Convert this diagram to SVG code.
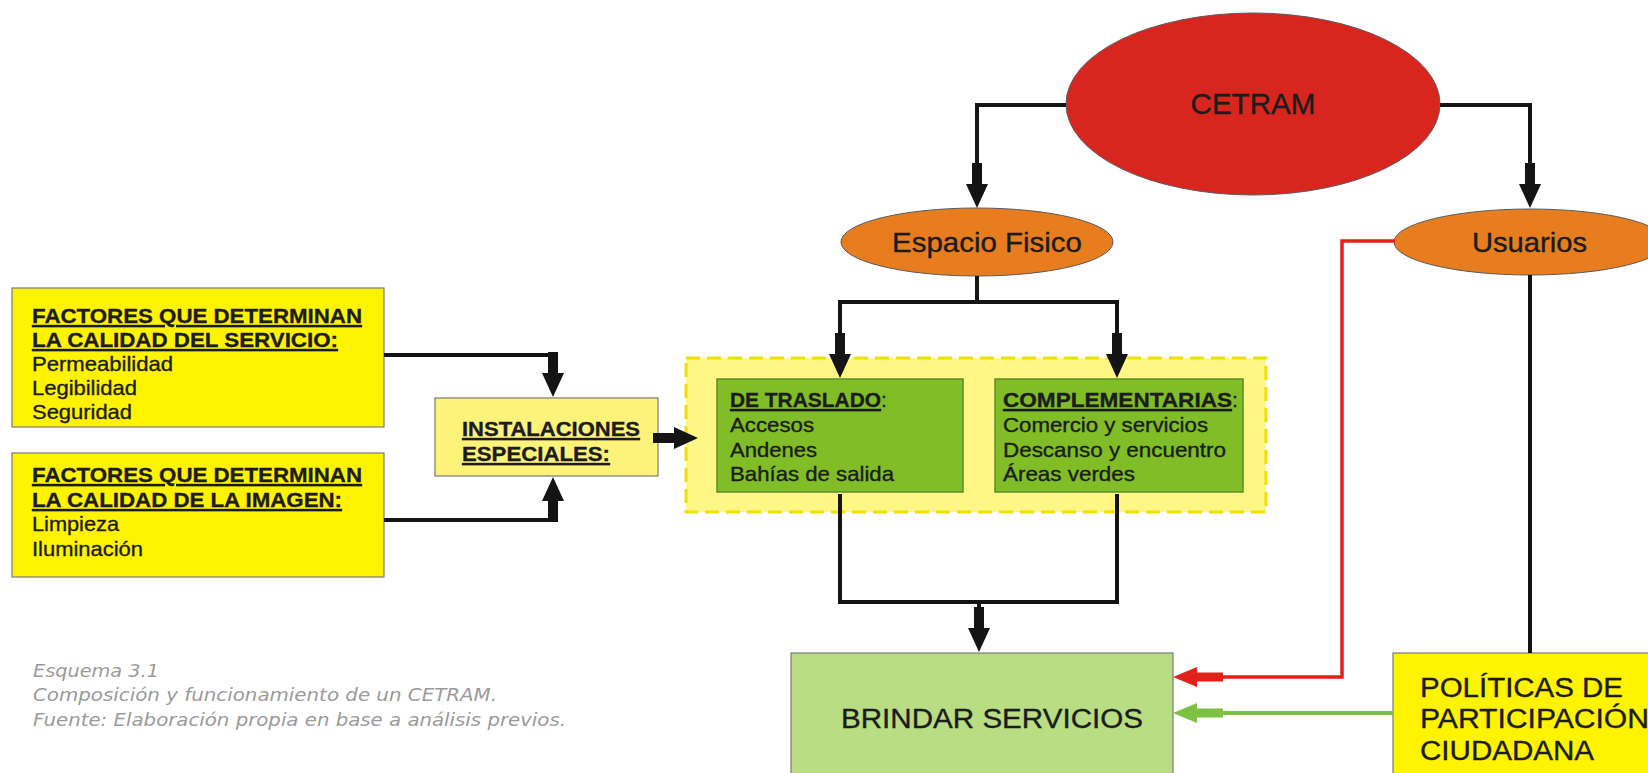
<svg xmlns="http://www.w3.org/2000/svg" xmlns:xlink="http://www.w3.org/1999/xlink" width="1648" height="773" viewBox="0 0 1648 773">
<style>
  .t { font-family: "Liberation Sans", Arial, sans-serif; fill: #1c1c1c; stroke: #1c1c1c; stroke-width: 0.35; }
  .b { font-weight: bold; }
  .u { text-decoration: underline; }
  .box { stroke: #7a7a7a; stroke-width: 1.2; }
  .ell { stroke: #5a5a5a; stroke-width: 1; }
  .ln { fill: none; stroke: #141414; stroke-width: 4; stroke-linejoin: miter; }
  .cap { font-family: "DejaVu Sans", Verdana, sans-serif; font-style: italic; fill: #9a9a9a; font-size: 17.5px; }
</style>
<defs>
  <path id="arrD" d="M-5,-45 H5 V-24 H11 L0,0 L-11,-24 H-5 Z" fill="#141414"/>
  <path id="arrL" d="M0,0 L24,-10 V-4.5 H50 V4.5 H24 V10 Z"/>
</defs>
<rect width="1648" height="773" fill="#ffffff"/>

<g id="cetram">
  <ellipse class="ell" cx="1253" cy="104" rx="187" ry="91" fill="#d8261f"/>
  <text class="t" x="1253" y="114" font-size="29" text-anchor="middle" textLength="125" lengthAdjust="spacingAndGlyphs">CETRAM</text>
</g>

<g id="espacio-fisico">
  <ellipse class="ell" cx="977" cy="242" rx="136" ry="34" fill="#e77d1f"/>
  <text class="t" x="892" y="252" font-size="28" textLength="190" lengthAdjust="spacingAndGlyphs">Espacio Fisico</text>
</g>

<g id="usuarios">
  <ellipse class="ell" cx="1530" cy="242" rx="136" ry="33" fill="#e77d1f"/>
  <text class="t" x="1472" y="252" font-size="28" textLength="115" lengthAdjust="spacingAndGlyphs">Usuarios</text>
</g>

<g id="factores-servicio">
  <rect class="box" x="12" y="288" width="372" height="139" fill="#fff300"/>
  <text class="t b u" x="32" y="323" font-size="21" textLength="330" lengthAdjust="spacingAndGlyphs">FACTORES QUE DETERMINAN</text>
  <text class="t b u" x="32" y="347" font-size="21" textLength="306" lengthAdjust="spacingAndGlyphs">LA CALIDAD DEL SERVICIO:</text>
  <text class="t" x="32" y="371" font-size="21" textLength="141" lengthAdjust="spacingAndGlyphs">Permeabilidad</text>
  <text class="t" x="32" y="395" font-size="21" textLength="105" lengthAdjust="spacingAndGlyphs">Legibilidad</text>
  <text class="t" x="32" y="419" font-size="21" textLength="100" lengthAdjust="spacingAndGlyphs">Seguridad</text>
</g>

<g id="factores-imagen">
  <rect class="box" x="12" y="453" width="372" height="124" fill="#fff300"/>
  <text class="t b u" x="32" y="482" font-size="21" textLength="330" lengthAdjust="spacingAndGlyphs">FACTORES QUE DETERMINAN</text>
  <text class="t b u" x="32" y="507" font-size="21" textLength="310" lengthAdjust="spacingAndGlyphs">LA CALIDAD DE LA IMAGEN:</text>
  <text class="t" x="32" y="531" font-size="21" textLength="87" lengthAdjust="spacingAndGlyphs">Limpieza</text>
  <text class="t" x="32" y="556" font-size="21" textLength="111" lengthAdjust="spacingAndGlyphs">Iluminación</text>
</g>

<g id="instalaciones">
  <rect class="box" x="435" y="398" width="223" height="78" fill="#fdf27a"/>
  <text class="t b u" x="462" y="436" font-size="21" textLength="178" lengthAdjust="spacingAndGlyphs">INSTALACIONES</text>
  <text class="t b u" x="462" y="461" font-size="21" textLength="148" lengthAdjust="spacingAndGlyphs">ESPECIALES:</text>
</g>

<g id="contenedor">
  <rect x="686" y="358" width="580" height="154" fill="#fff785" stroke="#f0e000" stroke-width="3" stroke-dasharray="14 7"/>
</g>

<g id="de-traslado">
  <rect x="717" y="379" width="246" height="113" fill="#80bd26" stroke="#5d8c2a" stroke-width="1.5"/>
  <text class="t" x="730" y="407" font-size="21"><tspan class="b u" textLength="151" lengthAdjust="spacingAndGlyphs">DE TRASLADO</tspan><tspan>:</tspan></text>
  <text class="t" x="730" y="432" font-size="21" textLength="84" lengthAdjust="spacingAndGlyphs">Accesos</text>
  <text class="t" x="730" y="457" font-size="21" textLength="87" lengthAdjust="spacingAndGlyphs">Andenes</text>
  <text class="t" x="730" y="481" font-size="21" textLength="164" lengthAdjust="spacingAndGlyphs">Bahías de salida</text>
</g>

<g id="complementarias">
  <rect x="995" y="379" width="248" height="113" fill="#80bd26" stroke="#5d8c2a" stroke-width="1.5"/>
  <text class="t" x="1003" y="407" font-size="21"><tspan class="b u" textLength="229" lengthAdjust="spacingAndGlyphs">COMPLEMENTARIAS</tspan><tspan>:</tspan></text>
  <text class="t" x="1003" y="432" font-size="21" textLength="205" lengthAdjust="spacingAndGlyphs">Comercio y servicios</text>
  <text class="t" x="1003" y="457" font-size="21" textLength="223" lengthAdjust="spacingAndGlyphs">Descanso y encuentro</text>
  <text class="t" x="1003" y="481" font-size="21" textLength="132" lengthAdjust="spacingAndGlyphs">Áreas verdes</text>
</g>

<g id="brindar-servicios">
  <rect class="box" x="791" y="653" width="382" height="130" fill="#b8dd82"/>
  <text class="t" x="841" y="728" font-size="27" textLength="302" lengthAdjust="spacingAndGlyphs">BRINDAR SERVICIOS</text>
</g>

<g id="politicas">
  <rect class="box" x="1393" y="653" width="270" height="130" fill="#fff300"/>
  <text class="t" x="1420" y="697" font-size="27" textLength="203" lengthAdjust="spacingAndGlyphs">POLÍTICAS DE</text>
  <text class="t" x="1420" y="728" font-size="27" textLength="229" lengthAdjust="spacingAndGlyphs">PARTICIPACIÓN</text>
  <text class="t" x="1420" y="760" font-size="27" textLength="174" lengthAdjust="spacingAndGlyphs">CIUDADANA</text>
</g>

<g id="connectors">
  <path class="ln" d="M384,355 H553 V370"/>
  <path class="ln" d="M384,520 H553 V505"/>
  <path class="ln" d="M1066,105 H977 V175"/>
  <path class="ln" d="M1440,105 H1530 V175"/>
  <path class="ln" d="M977,276 V302 M838,302 H1119 M840,302 V345 M1117,302 V345"/>
  <path class="ln" d="M840,494 V602 H1117 V494 M979,602 V620"/>
  <path class="ln" d="M1530,275 V653" stroke-width="3.5"/>
  <path d="M1395,241 H1342 V677 H1215" fill="none" stroke="#e0221b" stroke-width="3.5"/>
  <path d="M1393,713 H1215" fill="none" stroke="#7dc142" stroke-width="4"/>
  <use xlink:href="#arrD" transform="translate(977,208)"/>
  <use xlink:href="#arrD" transform="translate(1530,208)"/>
  <use xlink:href="#arrD" transform="translate(840,378)"/>
  <use xlink:href="#arrD" transform="translate(1117,378)"/>
  <use xlink:href="#arrD" transform="translate(979,652)"/>
  <use xlink:href="#arrD" transform="translate(553,397)"/>
  <use xlink:href="#arrD" transform="translate(553,477) rotate(180)"/>
  <use xlink:href="#arrD" transform="translate(698,438) rotate(-90)"/>
  <use xlink:href="#arrL" transform="translate(1173,677)" fill="#e0221b"/>
  <use xlink:href="#arrL" transform="translate(1173,713)" fill="#7dc142"/>
</g>

<g id="caption">
  <text class="cap" x="33" y="677" textLength="126" lengthAdjust="spacingAndGlyphs">Esquema 3.1</text>
  <text class="cap" x="33" y="701" textLength="464" lengthAdjust="spacingAndGlyphs">Composición y funcionamiento de un CETRAM.</text>
  <text class="cap" x="33" y="726" textLength="533" lengthAdjust="spacingAndGlyphs">Fuente: Elaboración propia en base a análisis previos.</text>
</g>
</svg>
